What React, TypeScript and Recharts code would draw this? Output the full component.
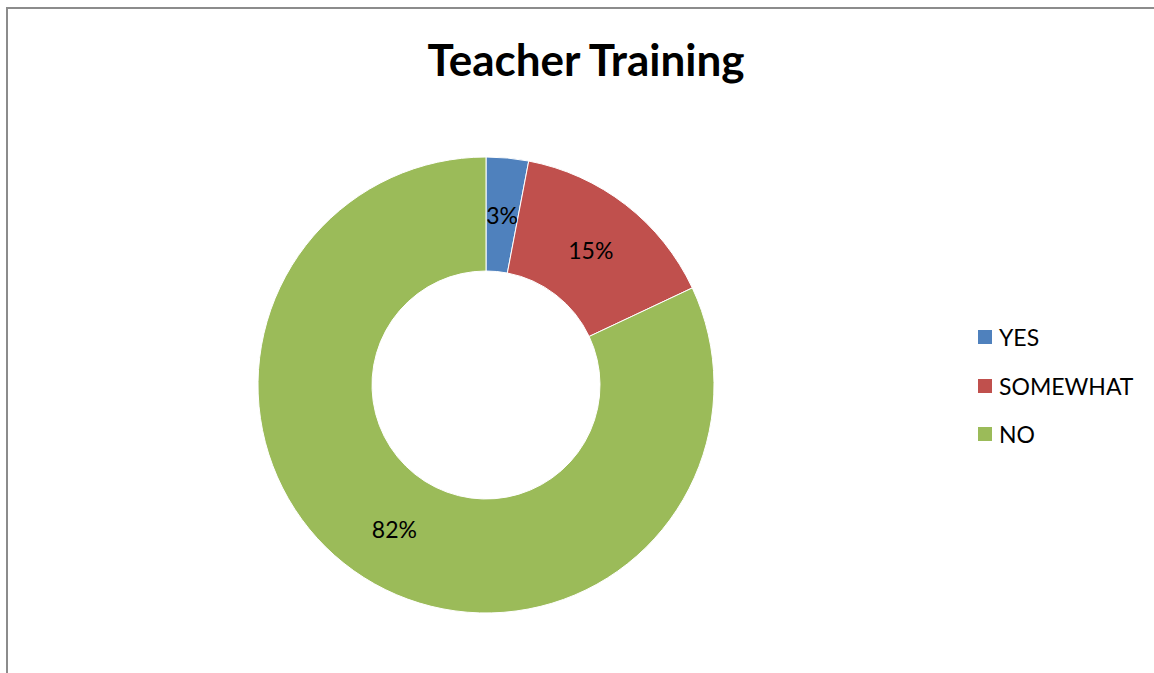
import { PieChart, Pie, Cell, Legend } from "recharts";

const categories = ["YES", "SOMEWHAT", "NO"];
const shares = [3, 15, 82];
const colors = ["#4F81BD", "#C0504D", "#9BBB59"];

const data = categories.map((name, i) => ({ name, value: shares[i] }));

const FONT = "Lato, 'Open Sans', sans-serif";
const RAD = Math.PI / 180;

function SliceLabel(props: any) {
  const { cx, cy, innerRadius, outerRadius, midAngle, value } = props;
  const r = (innerRadius + outerRadius) / 2;
  const x = cx + r * Math.cos(-midAngle * RAD);
  const y = cy + r * Math.sin(-midAngle * RAD);
  return (
    <text
      x={x}
      y={y}
      fill="#000"
      fontSize={23}
      fontFamily={FONT}
      textAnchor="middle"
      dominantBaseline="central"
    >
      {`${value}%`}
    </text>
  );
}

function LegendList() {
  return (
    <div style={{ fontFamily: FONT, fontSize: 23, color: "#000" }}>
      {categories.map((name, i) => (
        <div
          key={name}
          style={{ display: "flex", alignItems: "center", height: 48.5 }}
        >
          <span
            style={{
              width: 14,
              height: 14,
              background: colors[i],
              display: "inline-block",
              marginRight: 7,
            }}
          />
          <span>{name}</span>
        </div>
      ))}
    </div>
  );
}

export default function App() {
  return (
    <div
      style={{
        position: "absolute",
        left: 6,
        top: 7,
        width: 1146,
        height: 664,
        borderLeft: "2px solid #8c8c8c",
        borderTop: "2px solid #8c8c8c",
        background: "#fff",
      }}
    >
      <div
        style={{
          position: "absolute",
          left: 0,
          width: 1156,
          top: 24,
          textAlign: "center",
          fontFamily: FONT,
          fontWeight: 700,
          fontSize: 44,
          color: "#000",
          lineHeight: "52px",
        }}
      >
        Teacher Training
      </div>
      <PieChart width={1146} height={664}>
        <Pie
          data={data}
          dataKey="value"
          nameKey="name"
          cx={473}
          cy={371}
          innerRadius={114}
          outerRadius={228}
          startAngle={90}
          endAngle={-270}
          stroke="#fff"
          strokeWidth={1}
          label={SliceLabel}
          labelLine={false}
          isAnimationActive={false}
        >
          {data.map((d, i) => (
            <Cell key={d.name} fill={colors[i]} />
          ))}
        </Pie>
        <Legend
          content={() => <LegendList />}
          wrapperStyle={{ position: "absolute", left: 970, top: 304, width: 175 }}
        />
      </PieChart>
    </div>
  );
}
